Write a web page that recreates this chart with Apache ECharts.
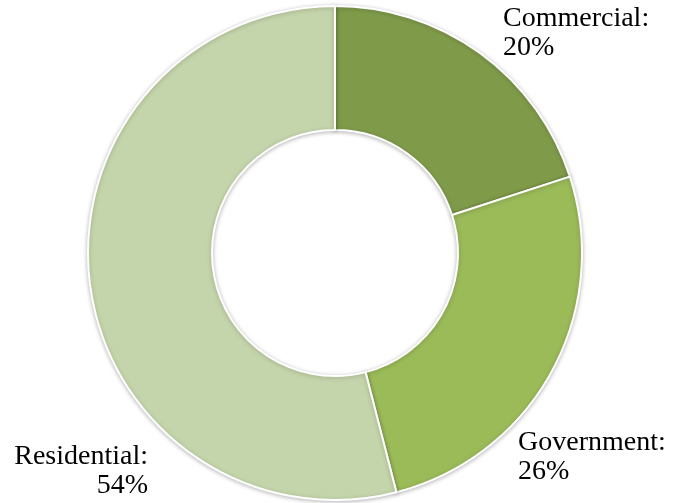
<!DOCTYPE html>
<html>
<head>
<meta charset="utf-8">
<script src="https://cdn.jsdelivr.net/npm/echarts@6/dist/echarts.min.js"></script>
<style>
  html, body { margin: 0; padding: 0; background: #fff; }
  #chart { width: 677px; height: 503px; }
</style>
</head>
<body>
<div id="chart"></div>
<script>
// Share of consumption by sector (percent)
const sectors = ['Commercial', 'Government', 'Residential'];
const shares = [20, 26, 54];
const sectorColors = ['#7f9b4a', '#9bbb59', '#c5d5ab'];

// Where each sector's label sits
const labelSpots = [
  { x: 503, y: 4, align: 'left' },
  { x: 518, y: 428, align: 'left' },
  { x: 148, y: 442, align: 'right' }
];

const chart = echarts.init(document.getElementById('chart'), null, { renderer: 'canvas' });

chart.setOption({
  backgroundColor: '#ffffff',
  animation: false,
  series: [{
    type: 'pie',
    center: [335, 253],
    radius: [123, 247],
    startAngle: 90,
    clockwise: true,
    avoidLabelOverlap: false,
    itemStyle: {
      borderColor: '#ffffff',
      borderWidth: 2,
      shadowBlur: 4,
      shadowColor: 'rgba(0,0,0,0.25)',
      shadowOffsetY: 1
    },
    label: {
      show: true,
      position: 'outside',
      formatter: p => p.name + ':\n' + p.value + '%',
      fontFamily: '"Liberation Serif", serif',
      fontSize: 28,
      lineHeight: 29,
      color: '#000000'
    },
    labelLine: { show: false },
    labelLayout: params => {
      const s = labelSpots[params.dataIndex];
      return { x: s.x, y: s.y, align: s.align, verticalAlign: 'top' };
    },
    data: sectors.map((name, i) => ({
      name: name,
      value: shares[i],
      itemStyle: { color: sectorColors[i] }
    }))
  }]
});
</script>
</body>
</html>
